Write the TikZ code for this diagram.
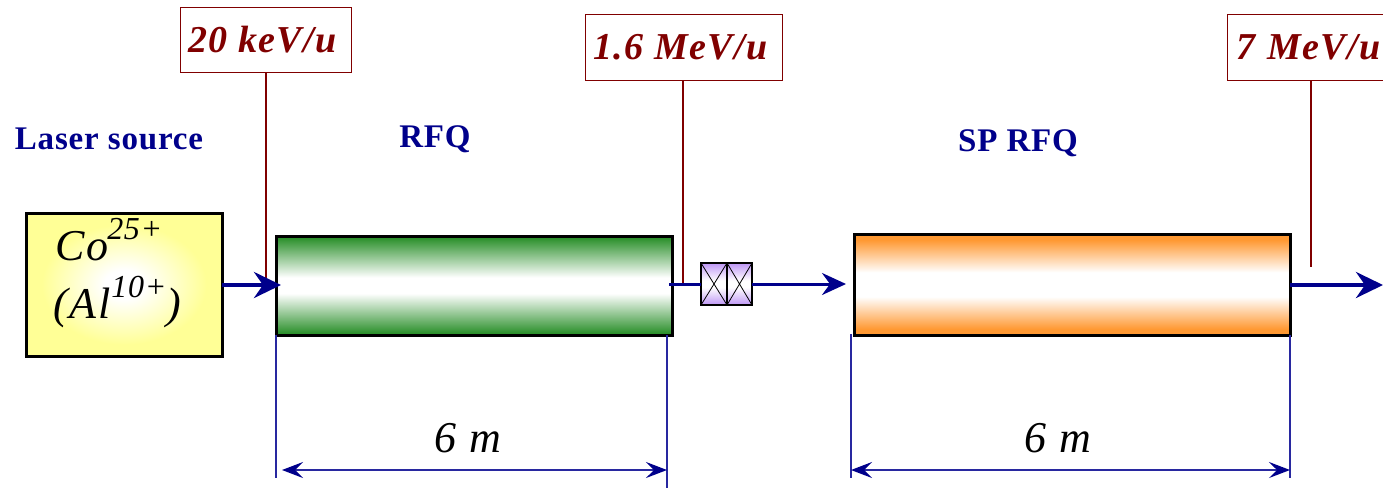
\documentclass[tikz,border=0pt]{standalone}
\usepackage{fontspec}
\setmainfont{Liberation Serif}
\usetikzlibrary{arrows.meta}
\definecolor{beam}{RGB}{0,0,139}
\definecolor{tag}{RGB}{128,0,0}
\definecolor{dim}{RGB}{40,40,160}
\definecolor{srcyellow}{RGB}{255,255,150}
\definecolor{rfqgreen}{RGB}{34,139,34}
\definecolor{sporange}{RGB}{255,153,51}
\definecolor{solviolet}{RGB}{190,150,245}
\newcommand{\fs}[1]{\fontsize{#1}{#1}\selectfont}
\pgfdeclareverticalshading{greenband}{100bp}{color(0bp)=(rfqgreen); color(25bp)=(rfqgreen); color(46bp)=(white); color(54bp)=(white); color(75bp)=(rfqgreen); color(100bp)=(rfqgreen)}
\pgfdeclareverticalshading{orangeband}{100bp}{color(0bp)=(sporange); color(28bp)=(sporange); color(44bp)=(white); color(56bp)=(white); color(72bp)=(sporange); color(100bp)=(sporange)}
\pgfdeclareverticalshading{violetband}{100bp}{color(0bp)=(solviolet); color(25bp)=(solviolet); color(46bp)=(white); color(54bp)=(white); color(75bp)=(solviolet); color(100bp)=(solviolet)}
\pgfdeclareradialshading{yellowglow}{\pgfpointorigin}{color(0bp)=(white); color(5bp)=(white); color(21bp)=(srcyellow); color(50bp)=(srcyellow)}
\tikzset{
  x=1pt,y=-1pt,
  boxline/.style={draw=black,line width=3pt,inner sep=0pt,outer sep=0pt},
  cavity/.style={boxline,anchor=north west},
  solbox/.style={boxline,anchor=north west,minimum height=42pt,shading=violetband,line width=2.5pt},
  energy/.style={draw=tag,line width=1pt,inner sep=0pt,outer sep=0pt,anchor=north west,text=tag,font=\fs{38}\bfseries\itshape\addfontfeature{LetterSpace=3.3}},
  leader/.style={draw=tag,line width=1.1pt},
  section/.style={text=beam,font=\fs{33}\bfseries\addfontfeature{LetterSpace=2.5},inner sep=0pt},
  big/.style={font=\fs{44}\itshape\addfontfeature{LetterSpace=4},inner sep=0pt,text=black},
  beamline/.style={draw=beam,line width=4pt,-{Stealth[length=27pt,width=26pt,inset=9pt]}},
  beamthin/.style={draw=beam,line width=3pt},
  dimline/.style={draw=dim,line width=1.2pt},
  dimarrow/.style={draw=dim,line width=1.4pt,{Stealth[length=21pt,width=16pt,inset=8pt,color=beam]}-{Stealth[length=21pt,width=16pt,inset=8pt,color=beam]}},
}
\begin{document}
\begin{tikzpicture}
\useasboundingbox (0,0) rectangle (1383,488);
\clip (0,0) rectangle (1383,488);
% source, cavities, solenoid
\node[boxline,anchor=north west,minimum width=196pt,minimum height=143pt,shading=yellowglow] (src) at (26,213) {};
\node[cavity,minimum width=396pt,minimum height=99pt,shading=greenband] (rfq) at (276,236) {};
\node[cavity,minimum width=436pt,minimum height=101pt,shading=orangeband] (sp) at (854,234) {};
\node[solbox,minimum width=26pt] (solA) at (701,263) {};
\node[solbox,minimum width=25pt] (solB) at (727,263) {};
\draw[line width=.8pt] (solA.north west)--(solA.south east) (solA.north east)--(solA.south west)
  (solB.north west)--(solB.south east) (solB.north east)--(solB.south west);
% source text
\node[big,anchor=base west] (co) at (55,260) {Co\raisebox{21pt}{\fs{32}\addfontfeature{LetterSpace=2}\kern-1pt 25+}};
\node[big,anchor=base west] (al) at (53,318) {(Al\raisebox{21pt}{\fs{32}\addfontfeature{LetterSpace=2}\kern1pt 10+})};
% energy tags
\node[energy,minimum width=171pt,minimum height=65pt] (tagA) at (180,7) {20 keV/u\kern6pt};
\node[energy,minimum width=197pt,minimum height=66pt] (tagB) at (585,14) {1.6 MeV/u\kern6pt};
\node[energy,minimum width=170pt,minimum height=66pt,text width=170pt,align=left] (tagC) at (1227,14) {\hspace{9pt}7 MeV/u};
% section names
\node[section] (lblsrc) at (109,139) {Laser source};
\node[section] (lblrfq) at (435,139) {RFQ};
\node[section] (lblsp) at (1018,143) {SP RFQ};
% free ends
\coordinate (beamA) at (281,285);
\coordinate (solIn) at (669,284);
\coordinate (beamB) at (846,284);
\coordinate (beamC) at (1383,285);
\coordinate (leadA) at (266,285);
\coordinate (leadB) at (683,286);
\coordinate (leadC) at (1311,267);
\coordinate (topA) at (266,72);
\coordinate (topB) at (683,80);
\coordinate (topC) at (1311,80);
% leaders
\draw[leader] (topA) -- (leadA);
\draw[leader] (topB) -- (leadB);
\draw[leader] (topC) -- (leadC);
% beam
\draw[beamline] (src.east |- beamA) -- (beamA);
\draw[beamthin] (solIn) -- (solA.west |- solIn);
\draw[draw=beam,line width=3pt,-{Stealth[length=24pt,width=22pt,inset=8pt]}] (solB.east |- beamB) -- (beamB);
\draw[beamline] (sp.east |- beamC) -- (beamC);
% dimensions
\coordinate (d1t) at (276,335); \coordinate (d1b) at (276,478);
\coordinate (d2t) at (667,335); \coordinate (d2b) at (667,488);
\coordinate (d3t) at (851,334); \coordinate (d3b) at (851,478);
\coordinate (d4t) at (1290,335); \coordinate (d4b) at (1290,478);
\coordinate (a1) at (282,470); \coordinate (a2) at (667,470);
\coordinate (a3) at (851,470); \coordinate (a4) at (1290,470);
\draw[dimline] (d1t)--(d1b);
\draw[dimline] (d2t)--(d2b);
\draw[dimline] (d3t)--(d3b);
\draw[dimline] (d4t)--(d4b);
\draw[dimarrow] (a1)--(a2);
\draw[dimarrow] (a3)--(a4);
\node[big,anchor=base] (lenA) at (468,452) {6 m};
\node[big,anchor=base] (lenB) at (1058,452) {6 m};
\end{tikzpicture}
\end{document}
